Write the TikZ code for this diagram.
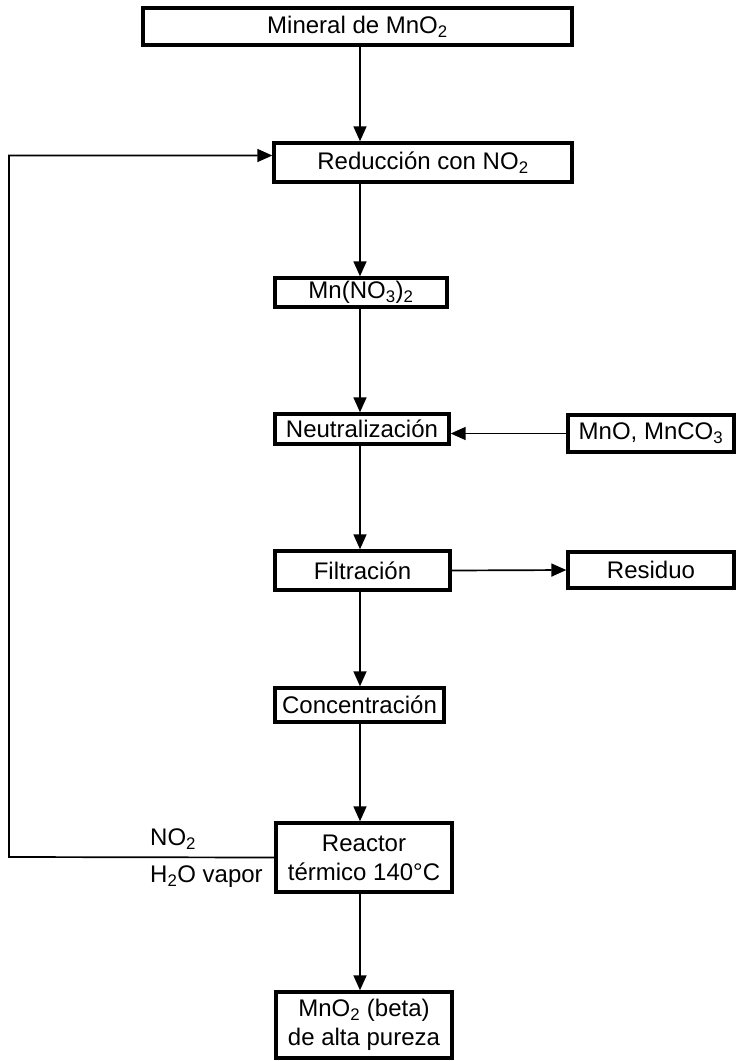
\documentclass[tikz,border=0pt]{standalone}
\usepackage{fontspec}
\setmainfont{Liberation Sans}
\usetikzlibrary{arrows.meta}

\begin{document}
\begin{tikzpicture}[x=1pt, y=-1pt, >={Triangle[length=15pt,width=13pt]},
  caja/.style={draw, line width=3.4pt, inner sep=0pt, align=center, font=\fontsize{24}{29}\selectfont},
  flecha/.style={->, line width=1.7pt},
  rotulo/.style={anchor=west, inner sep=0pt, font=\fontsize{24}{29}\selectfont}]

  \useasboundingbox (0,0) rectangle (738,1061);

  % columna principal
  \node[caja, minimum width=429pt, minimum height=37pt] (mineral) at (357.5,26.5) {Mineral de MnO\textsubscript{2}};
  \node[caja, minimum width=298pt, minimum height=39pt] (reduccion) at (423,162.5) {Reducción con NO\textsubscript{2}};
  \node[caja, minimum width=172pt, minimum height=29pt] (nitrato) at (361,292.5) {Mn(NO\textsubscript{3})\textsubscript{2}};
  \node[caja, minimum width=174pt, minimum height=30pt] (neutral) at (362,429) {Neutralización};
  \node[caja, minimum width=175pt, minimum height=39pt] (filtr) at (362.5,570.5) {Filtración};
  \node[caja, minimum width=169pt, minimum height=34pt] (concen) at (359.5,705) {Concentración};
  \node[caja, minimum width=176pt, minimum height=69pt] (reactor) at (364,857.5) {Reactor\\térmico 140°C};
  \node[caja, minimum width=176pt, minimum height=66pt] (producto) at (364,1025) {MnO\textsubscript{2} (beta)\\de alta pureza};

  % entradas y salidas laterales
  \node[caja, minimum width=166pt, minimum height=37pt] (mnco) at (651,433.5) {MnO, MnCO\textsubscript{3}};
  \node[caja, minimum width=166pt, minimum height=36pt] (residuo) at (651,570) {Residuo};

  \node[rotulo] (gas1) at (150,839) {NO\textsubscript{2}};
  \node[rotulo] (gas2) at (150,877) {H\textsubscript{2}O vapor};

  \coordinate (ret) at (9,857);

  \draw[flecha] (mineral.south -| 360,0) -- (360,0 |- reduccion.north);
  \draw[flecha] (reduccion.south -| 360,0) -- (360,0 |- nitrato.north);
  \draw[flecha] (nitrato.south -| 360,0) -- (360,0 |- neutral.north);
  \draw[flecha] (neutral.south -| 360,0) -- (360,0 |- filtr.north);
  \draw[flecha] (filtr.south -| 360,0) -- (360,0 |- concen.north);
  \draw[flecha] (concen.south -| 360,0) -- (360,0 |- reactor.north);
  \draw[flecha] (reactor.south -| 360,0) -- (360,0 |- producto.north);

  \draw[flecha] (mnco.west) -- (mnco.west -| neutral.east);
  \draw[flecha] (filtr.east) -- (residuo.west);

  % retorno de gases
  \draw[flecha] (reactor.west) -- (ret) |- ([yshift=7pt]reduccion.west);

\end{tikzpicture}
\end{document}
